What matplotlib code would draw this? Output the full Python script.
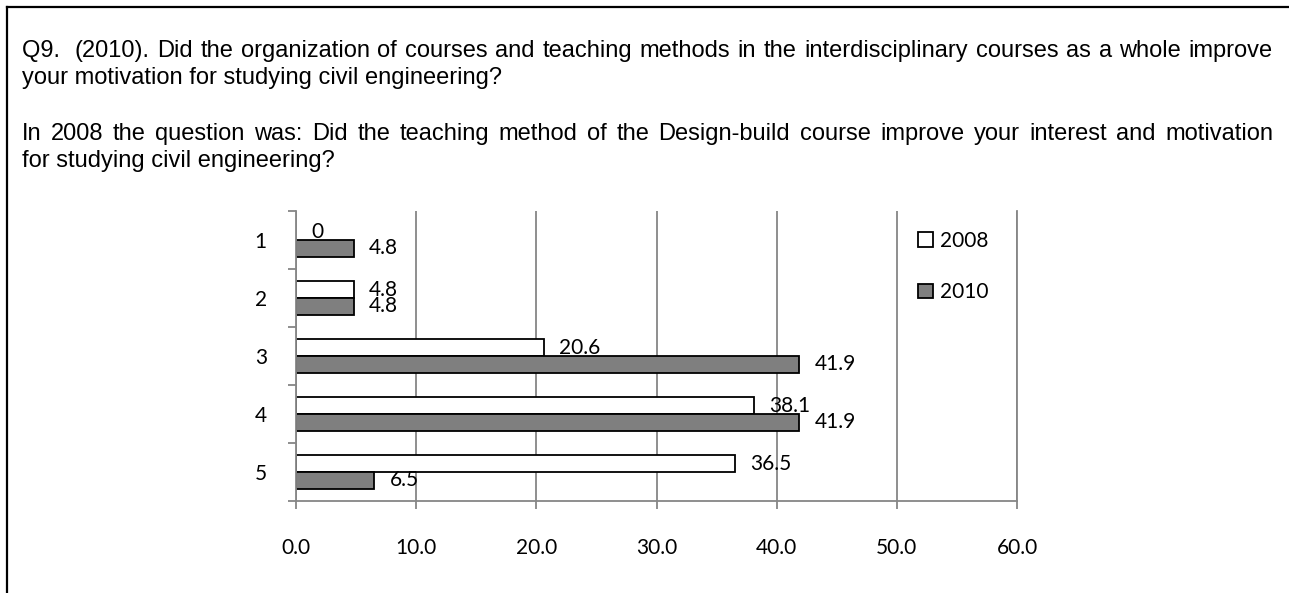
import numpy as np
from matplotlib import pyplot as plt
from matplotlib.lines import Line2D
from matplotlib.patches import Patch

W, H = 1289, 593

categories = ['1', '2', '3', '4', '5']
values_2008 = [0, 4.8, 20.6, 38.1, 36.5]
values_2010 = [4.8, 4.8, 41.9, 41.9, 6.5]
series_names = ['2008', '2010']
x_ticks = [0, 10, 20, 30, 40, 50, 60]

question_lines = [
    ("Q9.  (2010). Did the organization of courses and teaching methods in the "
     "interdisciplinary courses as a whole improve", True),
    ("your motivation for studying civil engineering?", False),
    ("In 2008 the question was: Did the teaching method of the Design-build course "
     "improve your interest and motivation", True),
    ("for studying civil engineering?", False),
]
baselines = [57, 84, 140, 167]

GRAY = '#868686'
chart_font = 'Lato'
text_font = 'Liberation Sans'
fs = 15
tfs = 17

fig = plt.figure(figsize=(W / 100, H / 100), dpi=100)
renderer = fig.canvas.get_renderer()

# frame lines (left and top only)
fig.add_artist(Line2D([7 / W, 7 / W], [0, 1 - 7 / H], color='black', lw=1.6))
fig.add_artist(Line2D([7 / W, 1], [1 - 7 / H, 1 - 7 / H], color='black', lw=1.6))

# question text, first lines justified
x_left, x_right = 22, 1273
for (line, justify), base in zip(question_lines, baselines):
    yy = 1 - base / H
    if not justify:
        fig.text(x_left / W, yy, line, fontsize=tfs, family=text_font, va='baseline')
        continue
    words = line.replace('Q9.  ', 'Q9.\u00a0 ').split(' ')
    texts = [fig.text(0, yy, w, fontsize=tfs, family=text_font, va='baseline') for w in words]
    widths = [t.get_window_extent(renderer).width for t in texts]
    gap = (x_right - x_left - sum(widths)) / (len(words) - 1)
    x = x_left
    for t, w in zip(texts, widths):
        t.set_x(x / W)
        x += w + gap

# chart
ax = fig.add_axes([296 / W, (H - 501) / H, 721 / W, 290 / H])
y = np.arange(len(categories))
h = 17 / 58
colors = ['white', '#7f7f7f']
b1 = ax.barh(y - h / 2, values_2008, height=h, color=colors[0], edgecolor='black', lw=1.3)
b2 = ax.barh(y + h / 2, values_2010, height=h, color=colors[1], edgecolor='black', lw=1.3)
for bars, vals in ((b1, values_2008), (b2, values_2010)):
    for patch, v in zip(bars, vals):
        if v == 0:
            patch.set_linewidth(0)
    ax.bar_label(bars, labels=[f'{v:g}' for v in vals], padding=11,
                 fontsize=fs, family=chart_font)

ax.set_xlim(0, 60)
ax.set_ylim(len(categories) - 0.5, -0.5)
ax.set_xticks(x_ticks)
ax.set_xticklabels([f'{t:.1f}' for t in x_ticks], fontsize=fs, family=chart_font)
ax.set_yticks(y)
ax.set_yticklabels(categories, fontsize=fs, family=chart_font)
ax.set_yticks(np.arange(-0.5, len(categories)), minor=True)

ax.xaxis.grid(True, color=GRAY, lw=1.3)
ax.set_axisbelow(True)
ax.spines['top'].set_visible(False)
for s in ('left', 'bottom', 'right'):
    ax.spines[s].set_color(GRAY)
    ax.spines[s].set_linewidth(1.3)

ax.tick_params(axis='y', which='major', length=0, pad=21)
ax.tick_params(axis='y', which='minor', length=5.8, width=1.3, color=GRAY)
ax.tick_params(axis='x', length=5.8, width=1.3, color=GRAY, pad=21)

handles = [Patch(facecolor=c, edgecolor='black', lw=1.3) for c in colors]
ax.legend(handles, series_names, loc='upper left',
          bbox_to_anchor=(918 / W, 1 - 231 / H),
          bbox_transform=fig.transFigure, frameon=False, borderpad=0,
          borderaxespad=0, handlelength=0.7, handleheight=0.7,
          handletextpad=0.35, labelspacing=1.5,
          prop={'family': chart_font, 'size': fs})

fig.savefig('out.png', dpi=100)
